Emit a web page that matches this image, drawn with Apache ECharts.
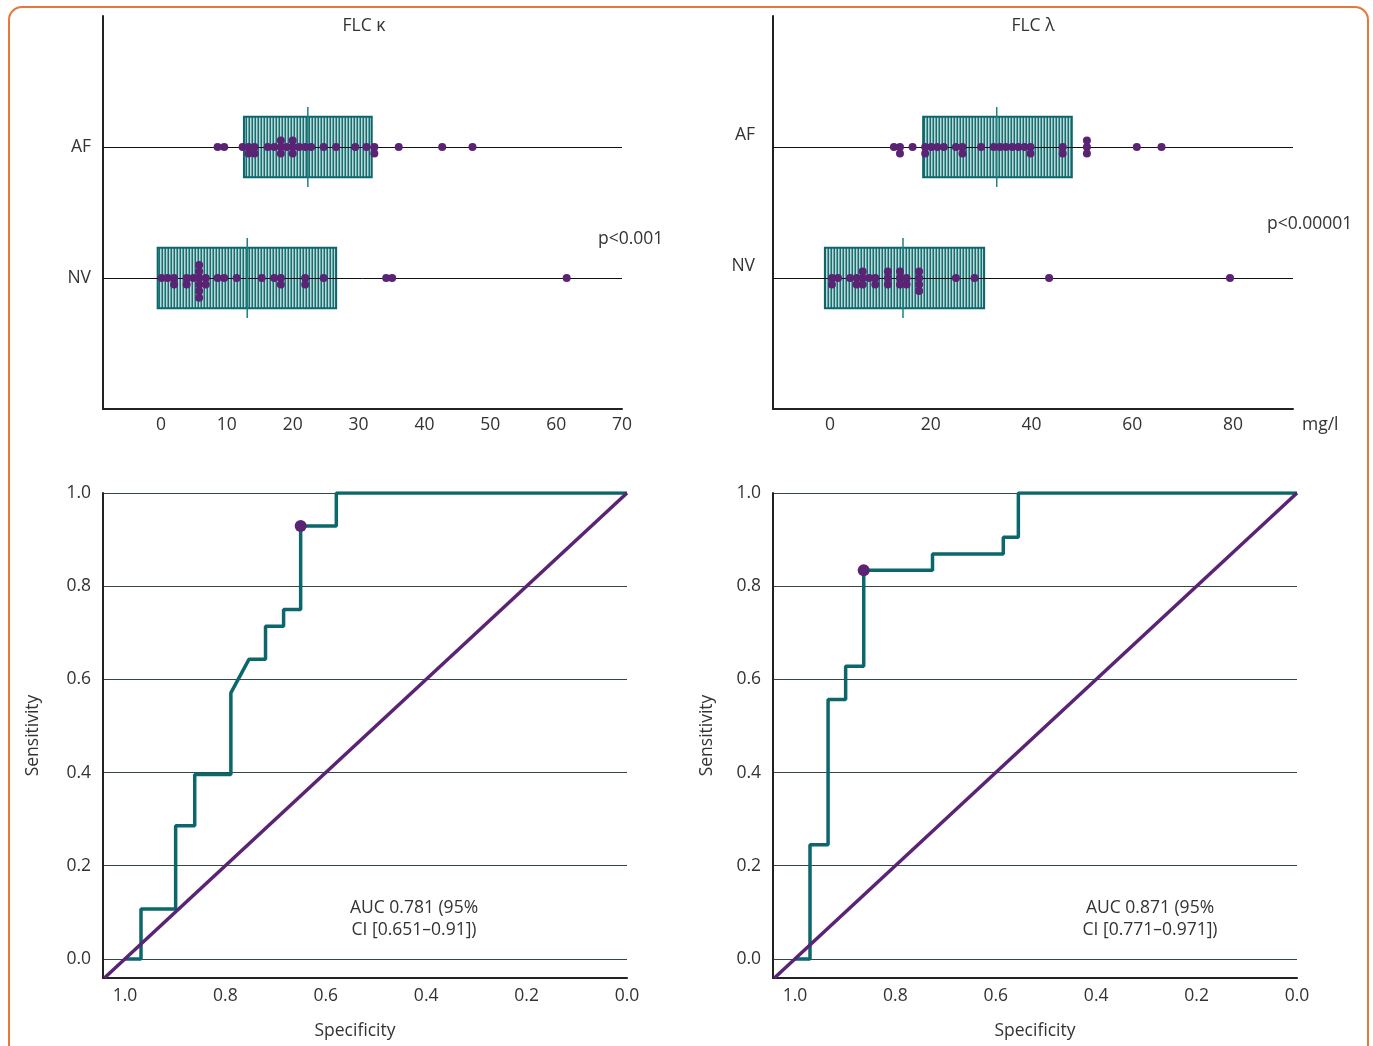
<!DOCTYPE html>
<html>
<head>
<meta charset="utf-8">
<title>FLC κ / FLC λ</title>
<script src="https://cdn.jsdelivr.net/npm/echarts@6/dist/echarts.min.js"></script>
<style>
  html, body { margin: 0; padding: 0; background: #fff; }
  #chart { width: 1373px; height: 1046px; }
  #frame {
    position: absolute; left: 8px; top: 6px; width: 1361px; height: 1080px;
    border: 2px solid #e9773b; border-radius: 14px; box-sizing: border-box; pointer-events: none;
  }
</style>
</head>
<body>
<div id="chart"></div>
<div id="frame"></div>
<script>
// row index on the value axis -> label
const rowNames = ['', 'NV', 'AF', '']

// box: [q1, q3, median], order AF, NV
const kappaBoxes = [[12.6, 32.0, 22.3], [-0.5, 26.6, 13.1]]
const lambdaBoxes = [[18.5, 48.0, 33.1], [-1.0, 30.6, 14.5]]

// dots: [mg/l, stack level in the swarm]
const kappaAF = [[8.6, 0], [9.6, 0], [12.4, 0], [13.3, 0], [13.3, -1], [14.2, 0], [14.2, -1], [16.2, 0], [17.2, 0],
  [18.2, 1], [18.2, 0], [18.2, -1], [19.1, 0], [20.0, 1], [20.0, 0], [20.0, -1], [21.0, 0], [21.9, 0], [22.8, 0],
  [24.7, 0], [26.6, 0], [29.5, 0], [31.2, 0], [32.4, 0], [32.4, -1], [36.1, 0], [42.7, 0], [47.3, 0]]
const kappaNV = [[0.1, 0], [1.0, 0], [2.0, 0], [2.0, -1], [3.9, 0], [3.9, -1], [4.9, 0], [5.8, 2], [5.8, 1], [5.8, 0],
  [5.8, -1], [5.8, -2], [5.8, -3], [6.8, 0], [6.8, -1], [8.6, 0], [9.6, 0], [11.5, 0], [15.3, 0], [17.2, 0], [18.2, 0],
  [18.2, -1], [21.9, 0], [21.9, -1], [24.7, 0], [34.2, 0], [35.1, 0], [61.6, 0]]
const lambdaAF = [[12.7, 0], [13.9, 0], [13.9, -1], [16.4, 0], [18.9, 0], [18.9, -1], [20.1, 0], [21.3, 0], [22.6, 0],
  [25.0, 0], [26.3, 0], [26.3, -1], [30.0, 0], [32.5, 0], [33.7, 0], [34.9, 0], [36.2, 0], [37.4, 0], [38.6, 0],
  [39.8, 0], [39.8, -1], [46.2, 0], [46.2, -1], [51.0, 1], [51.0, 0], [51.0, -1], [60.9, 0], [65.8, 0]]
const lambdaNV = [[0.4, 0], [0.4, -1], [1.6, 0], [4.0, 0], [5.3, 0], [5.3, -1], [6.5, 1], [6.5, 0], [6.5, -1], [7.8, 0],
  [9.0, 0], [9.0, -1], [11.5, 1], [11.5, 0], [11.5, -1], [13.9, 1], [13.9, 0], [13.9, -1], [15.2, 0], [15.2, -1],
  [17.7, 1], [17.7, 0], [17.7, -1], [17.7, -2], [25.0, 0], [28.7, 0], [43.5, 0], [79.4, 0]]

// ROC curves (specificity, sensitivity)
const kappaSpec = [1.0, 0.968, 0.968, 0.899, 0.899, 0.861, 0.861, 0.789, 0.789, 0.753, 0.72, 0.72, 0.684, 0.684, 0.65, 0.65, 0.579, 0.579, 0.0]
const kappaSens = [0, 0, 0.107, 0.107, 0.286, 0.286, 0.396, 0.396, 0.571, 0.643, 0.643, 0.714, 0.714, 0.75, 0.75, 0.929, 0.929, 1.0, 1.0]
const kappaCut = [0.65, 0.929]
const lambdaSpec = [1.0, 0.97, 0.97, 0.934, 0.934, 0.899, 0.899, 0.863, 0.863, 0.726, 0.726, 0.585, 0.585, 0.555, 0.555, 0.0]
const lambdaSens = [0, 0, 0.245, 0.245, 0.557, 0.557, 0.628, 0.628, 0.834, 0.834, 0.869, 0.869, 0.905, 0.905, 1.0, 1.0]
const lambdaCut = [0.863, 0.834]
const chanceSpec = [1.041, 0]
const chanceSens = [-0.041, 1]

const TEAL = '#0b676b'
const PURPLE = '#5a2374'
const TXT = '#333'
const FONT = '"Open Sans", Lato, sans-serif'
const FS = 17.5

function stripes() {
  const c = document.createElement('canvas')
  c.width = 3
  c.height = 4
  const g = c.getContext('2d')
  ;['#17706f', '#bcd8d8', '#68a5a6'].forEach((col, i) => {
    g.fillStyle = col
    g.fillRect(i, 0, 1, 4)
  })
  return c
}
const hatch = { image: stripes(), repeat: 'repeat' }

const zip = (a, b) => a.map((v, i) => [v, b[i]])
const swarm = (pts, row) => pts.map(([v, lvl]) => [v, row + lvl * 0.05])
const boxData = (boxes) => boxes.map((b, i) => [b[0], b[1], b[2], 2 - i])

function renderBox(params, api) {
  const cs = params.coordSys
  const row = api.value(3)
  const lo = api.coord([api.value(0), row])
  const hi = api.coord([api.value(1), row])
  const med = api.coord([api.value(2), row])
  const unit = api.size([0, 1])[1]
  const h = unit * 0.46
  const mh = unit * 0.305
  const ry = Math.round(lo[1]) + 0.5
  return {
    type: 'group',
    children: [
      {
        type: 'rect',
        shape: { x: lo[0], y: lo[1] - h / 2, width: hi[0] - lo[0], height: h },
        style: { fill: hatch, stroke: TEAL, lineWidth: 2 }
      },
      {
        type: 'line',
        shape: { x1: cs.x, y1: ry, x2: cs.x + cs.width, y2: ry },
        style: { stroke: '#111', lineWidth: 1 }
      },
      {
        type: 'line',
        shape: { x1: med[0], y1: med[1] - mh, x2: med[0], y2: med[1] + mh },
        style: { stroke: '#1f7f82', lineWidth: 1.5 }
      }
    ]
  }
}

const axisLineStyle = { show: true, onZero: false, lineStyle: { color: '#222', width: 2 } }
const labelStyle = { color: TXT, fontSize: FS, fontFamily: FONT }

function dotAxisX(idx, min, max, showMax, split) {
  return {
    gridIndex: idx, type: 'value', min: min, max: max, splitNumber: split,
    axisLine: axisLineStyle, axisTick: { show: false }, splitLine: { show: false },
    axisLabel: Object.assign({ margin: 7, showMinLabel: false, showMaxLabel: showMax }, labelStyle)
  }
}
function dotAxisY(idx, margin, lift) {
  return {
    gridIndex: idx, type: 'value', min: 0, max: 3, interval: 1,
    axisLine: axisLineStyle, axisTick: { show: false }, splitLine: { show: false },
    axisLabel: Object.assign({
      margin: margin, verticalAlign: lift ? 'bottom' : 'middle', lineHeight: lift ? 2 * lift : 20,
      formatter: (v) => rowNames[v] || ''
    }, labelStyle)
  }
}
function rocAxisX(idx, nameShift) {
  return {
    gridIndex: idx, type: 'value', inverse: true, min: 0, max: 1.0437, splitNumber: 5,
    axisLine: axisLineStyle, axisTick: { show: false }, splitLine: { show: false },
    axisLabel: Object.assign({ margin: 9, showMaxLabel: false, formatter: (v) => v.toFixed(1) }, labelStyle),
    name: 'Specificity', nameLocation: 'middle', nameGap: 44,
    nameTextStyle: Object.assign({ padding: [0, nameShift, 0, 0] }, labelStyle)
  }
}
function rocAxisY(idx, gap) {
  return {
    gridIndex: idx, type: 'value', min: -0.041, max: 1, splitNumber: 5,
    axisLine: axisLineStyle, axisTick: { show: false },
    splitLine: { show: true, lineStyle: { color: '#34464a', width: 1 } },
    axisLabel: Object.assign({
      margin: 12, showMinLabel: false,
      formatter: (v) => (Math.abs(v * 5 - Math.round(v * 5)) < 1e-6 ? v.toFixed(1) : '')
    }, labelStyle),
    name: 'Sensitivity', nameLocation: 'middle', nameGap: gap, nameRotate: 90,
    nameTextStyle: labelStyle
  }
}

function text(x, y, str, align) {
  return {
    type: 'text', x: x, y: y,
    style: { text: str, fill: TXT, font: FS + 'px ' + FONT, align: align || 'center', verticalAlign: 'middle', lineHeight: 22 }
  }
}

const chart = echarts.init(document.getElementById('chart'), null, { renderer: 'canvas' })
chart.setOption({
  animation: false,
  backgroundColor: '#fff',
  textStyle: { fontFamily: FONT },
  grid: [
    { left: 103, top: 16, width: 519, height: 393 },
    { left: 773, top: 16, width: 520, height: 393 },
    { left: 103, top: 493, width: 524, height: 485 },
    { left: 773, top: 493, width: 524, height: 485 }
  ],
  xAxis: [
    dotAxisX(0, -8.8, 70, true, 8),
    Object.assign(dotAxisX(1, -11.3, 91.9, false, 5), {
      name: 'mg/l', nameLocation: 'end', nameGap: 9,
      nameTextStyle: Object.assign({ verticalAlign: 'top', padding: [7, 0, 0, 0] }, labelStyle)
    }),
    rocAxisX(2, 20),
    rocAxisX(3, 0)
  ],
  yAxis: [
    dotAxisY(0, 12, 0),
    dotAxisY(1, 18, 12),
    rocAxisY(2, 61),
    rocAxisY(3, 57)
  ],
  graphic: [
    text(364, 26, 'FLC κ'),
    text(1033, 26, 'FLC λ'),
    text(598, 239, 'p<0.001', 'left'),
    text(1267, 224, 'p<0.00001', 'left'),
    text(414, 919, 'AUC 0.781 (95%\nCI [0.651–0.91])'),
    text(1150, 919, 'AUC 0.871 (95%\nCI [0.771–0.971])')
  ],
  series: [
    { type: 'custom', xAxisIndex: 0, yAxisIndex: 0, renderItem: renderBox, data: boxData(kappaBoxes), encode: { x: [0, 1, 2], y: 3 }, z: 1 },
    { type: 'custom', xAxisIndex: 1, yAxisIndex: 1, renderItem: renderBox, data: boxData(lambdaBoxes), encode: { x: [0, 1, 2], y: 3 }, z: 1 },
    { type: 'scatter', xAxisIndex: 0, yAxisIndex: 0, symbolSize: 8, itemStyle: { color: PURPLE, opacity: 1 }, data: swarm(kappaAF, 2).concat(swarm(kappaNV, 1)), z: 3 },
    { type: 'scatter', xAxisIndex: 1, yAxisIndex: 1, symbolSize: 8, itemStyle: { color: PURPLE, opacity: 1 }, data: swarm(lambdaAF, 2).concat(swarm(lambdaNV, 1)), z: 3 },
    { type: 'line', xAxisIndex: 2, yAxisIndex: 2, symbol: 'none', lineStyle: { color: TEAL, width: 3.5 }, data: zip(kappaSpec, kappaSens), z: 2 },
    { type: 'line', xAxisIndex: 3, yAxisIndex: 3, symbol: 'none', lineStyle: { color: TEAL, width: 3.5 }, data: zip(lambdaSpec, lambdaSens), z: 2 },
    { type: 'line', xAxisIndex: 2, yAxisIndex: 2, symbol: 'none', lineStyle: { color: PURPLE, width: 3.5 }, data: zip(chanceSpec, chanceSens), z: 3 },
    { type: 'line', xAxisIndex: 3, yAxisIndex: 3, symbol: 'none', lineStyle: { color: PURPLE, width: 3.5 }, data: zip(chanceSpec, chanceSens), z: 3 },
    { type: 'scatter', xAxisIndex: 2, yAxisIndex: 2, symbolSize: 12, itemStyle: { color: PURPLE, opacity: 1 }, data: [kappaCut], z: 4 },
    { type: 'scatter', xAxisIndex: 3, yAxisIndex: 3, symbolSize: 12, itemStyle: { color: PURPLE, opacity: 1 }, data: [lambdaCut], z: 4 }
  ]
})
</script>
</body>
</html>
